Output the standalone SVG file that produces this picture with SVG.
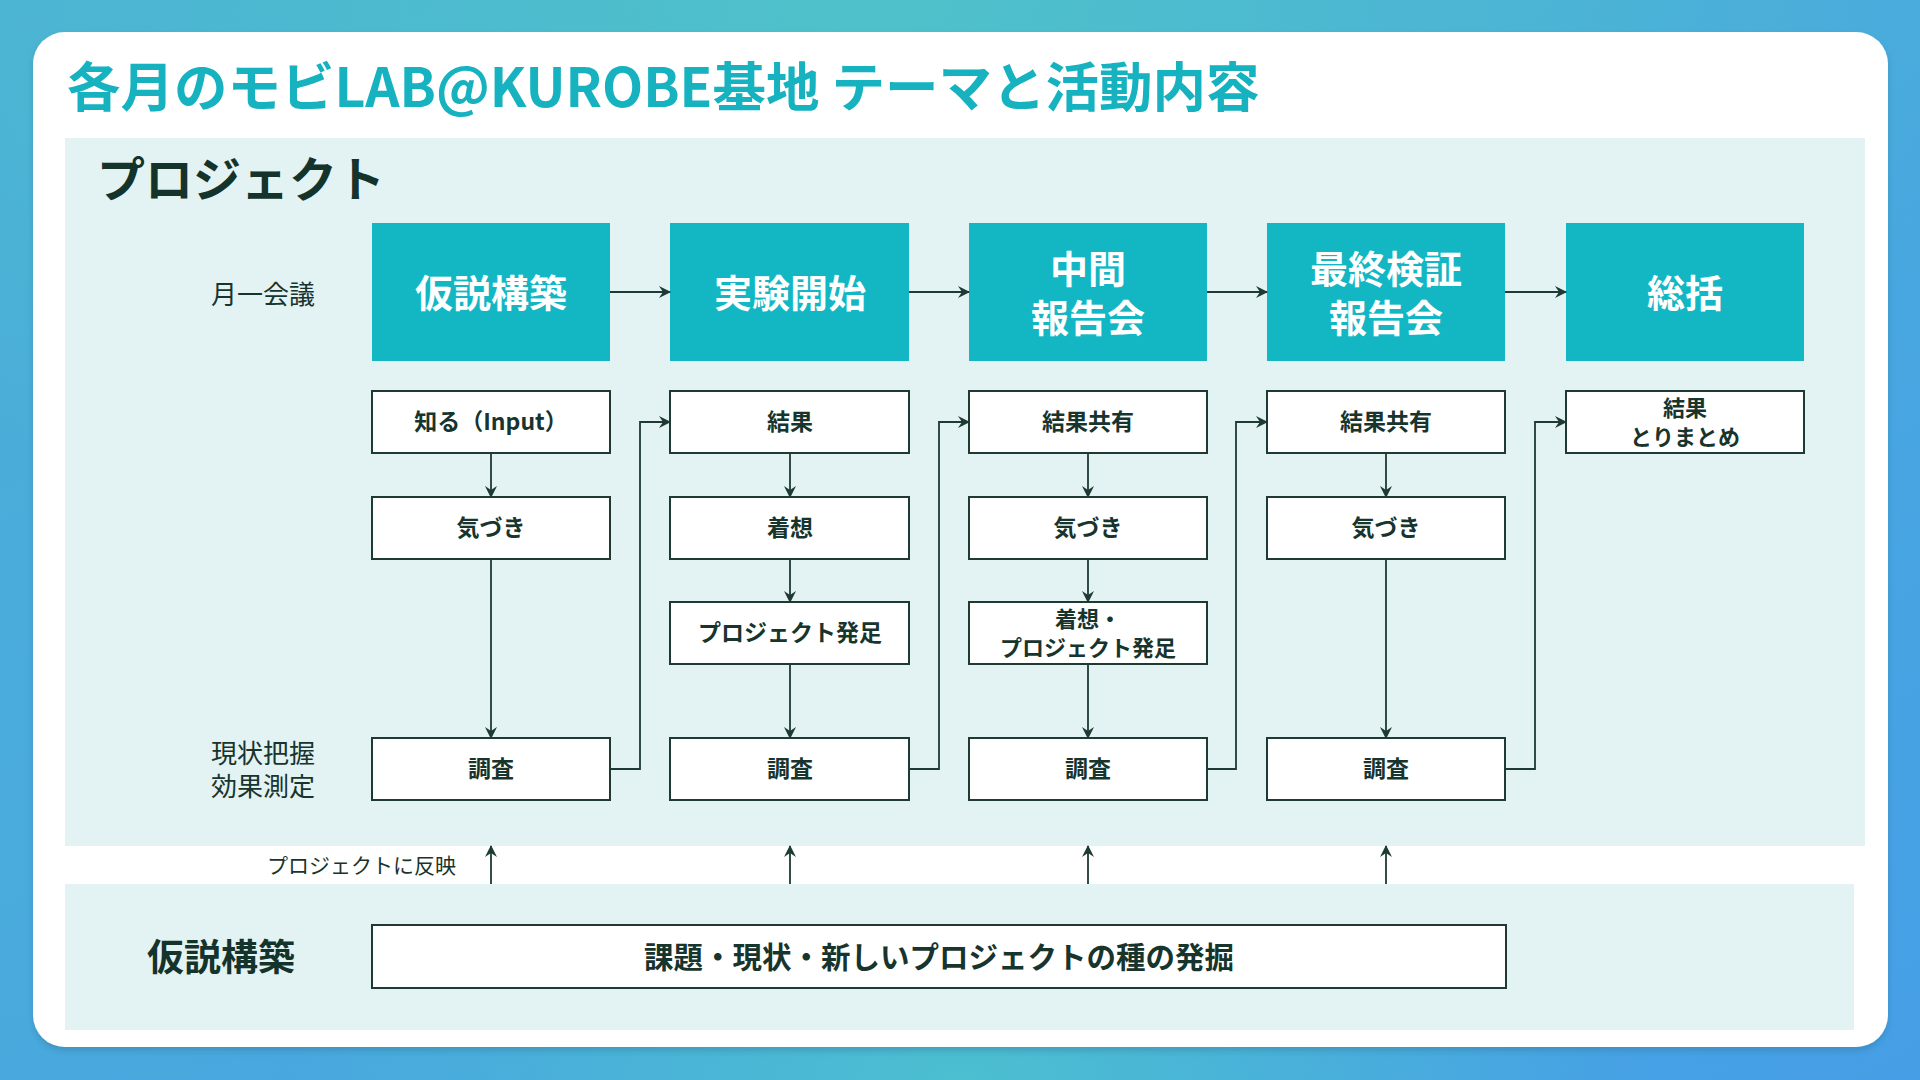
<svg xmlns="http://www.w3.org/2000/svg" width="1920" height="1080" viewBox="0 0 1920 1080">
<defs>
  <linearGradient id="bg" x1="0" y1="0" x2="1" y2="1">
    <stop offset="0" stop-color="#4BB0D6"/>
    <stop offset="0.5" stop-color="#49A9DE"/>
    <stop offset="1" stop-color="#469FE6"/>
  </linearGradient>
  <radialGradient id="glowTop" cx="0.45" cy="0" r="0.6">
    <stop offset="0" stop-color="#4FC4C8" stop-opacity="0.9"/>
    <stop offset="1" stop-color="#4FC4C8" stop-opacity="0"/>
  </radialGradient>
  <radialGradient id="glowBot" cx="0.5" cy="1" r="0.35">
    <stop offset="0" stop-color="#4CC2CE" stop-opacity="0.9"/>
    <stop offset="1" stop-color="#4CC2CE" stop-opacity="0"/>
  </radialGradient>
  <filter id="shadow" x="-5%" y="-5%" width="110%" height="110%">
    <feDropShadow dx="0" dy="4" stdDeviation="3" flood-color="#2a6f8a" flood-opacity="0.35"/>
  </filter>
  <marker id="arr" viewBox="0 0 12 12" refX="11" refY="6" markerWidth="12" markerHeight="12" markerUnits="userSpaceOnUse" orient="auto">
    <path d="M0,0 L12,6 L0,12 L4,6 Z" fill="#1D3A33"/>
  </marker>
  <style>
    .teal{fill:#13B7C4}
    .wbox{fill:#FFFFFF;stroke:#1F3A33;stroke-width:2}
    .tt{font-family:"Noto Sans CJK JP","Noto Sans",sans-serif;font-weight:700;font-size:38px;fill:#FFFFFF;text-anchor:middle;dominant-baseline:central}
    .bt{font-family:"Noto Sans CJK JP","Noto Sans",sans-serif;font-weight:700;font-size:23px;fill:#17342D;text-anchor:middle;dominant-baseline:central}
    .bt2{font-family:"Noto Sans CJK JP","Noto Sans",sans-serif;font-weight:700;font-size:22px;fill:#17342D;text-anchor:middle;dominant-baseline:central}
    .lbl{font-family:"Noto Sans CJK JP","Noto Sans",sans-serif;font-weight:400;font-size:26px;fill:#17342D;dominant-baseline:central}
    .ln{fill:none;stroke:#1D3A33;stroke-width:1.8}
  </style>
</defs>

<rect x="0" y="0" width="1920" height="1080" fill="url(#bg)"/>
<rect x="0" y="0" width="1920" height="1080" fill="url(#glowTop)"/>
<rect x="0" y="0" width="1920" height="1080" fill="url(#glowBot)"/>

<rect x="33" y="32" width="1855" height="1015" rx="32" fill="#FFFFFF" filter="url(#shadow)"/>

<text x="67" y="83" font-family="'Noto Sans CJK JP','Noto Sans',sans-serif" font-weight="700" font-size="53.5" fill="#16B2C0" dominant-baseline="central">各月のモビLAB@KUROBE基地 テーマと活動内容</text>

<rect x="65" y="138" width="1800" height="708" fill="#E3F2F3"/>
<rect x="65" y="884" width="1789" height="146" fill="#E3F2F3"/>

<text x="97" y="176" font-family="'Noto Sans CJK JP','Noto Sans',sans-serif" font-weight="700" font-size="48" fill="#14332B" dominant-baseline="central">プロジェクト</text>

<text class="lbl" x="211" y="292">月一会議</text>
<text class="lbl"><tspan x="211" y="751">現状把握</tspan><tspan x="211" y="784">効果測定</tspan></text>

<g id="stage-1"><rect class="teal" x="372" y="223" width="238" height="138"/><text class="tt" x="491" y="290">仮説構築</text></g>
<g id="stage-2"><rect class="teal" x="670" y="223" width="239" height="138"/><text class="tt" x="790" y="290">実験開始</text></g>
<g id="stage-3"><rect class="teal" x="969" y="223" width="238" height="138"/><text class="tt"><tspan x="1088" y="266">中間</tspan><tspan x="1088" y="315">報告会</tspan></text></g>
<g id="stage-4"><rect class="teal" x="1267" y="223" width="238" height="138"/><text class="tt"><tspan x="1386" y="266">最終検証</tspan><tspan x="1386" y="315">報告会</tspan></text></g>
<g id="stage-5"><rect class="teal" x="1566" y="223" width="238" height="138"/><text class="tt" x="1685" y="290">総括</text></g>

<g id="c1-shiru"><rect class="wbox" x="372" y="391" width="238" height="62"/><text class="bt" x="491" y="420">知る（Input）</text></g>
<g id="c1-kizuki"><rect class="wbox" x="372" y="497" width="238" height="62"/><text class="bt" x="491" y="526">気づき</text></g>
<g id="c1-chosa"><rect class="wbox" x="372" y="738" width="238" height="62"/><text class="bt" x="491" y="767">調査</text></g>

<g id="c2-kekka"><rect class="wbox" x="670" y="391" width="239" height="62"/><text class="bt" x="790" y="420">結果</text></g>
<g id="c2-chakuso"><rect class="wbox" x="670" y="497" width="239" height="62"/><text class="bt" x="790" y="526">着想</text></g>
<g id="c2-hossoku"><rect class="wbox" x="670" y="602" width="239" height="62"/><text class="bt" x="790" y="631">プロジェクト発足</text></g>
<g id="c2-chosa"><rect class="wbox" x="670" y="738" width="239" height="62"/><text class="bt" x="790" y="767">調査</text></g>

<g id="c3-kyoyu"><rect class="wbox" x="969" y="391" width="238" height="62"/><text class="bt" x="1088" y="420">結果共有</text></g>
<g id="c3-kizuki"><rect class="wbox" x="969" y="497" width="238" height="62"/><text class="bt" x="1088" y="526">気づき</text></g>
<g id="c3-hossoku"><rect class="wbox" x="969" y="602" width="238" height="62"/><text class="bt2"><tspan x="1088" y="617">着想・</tspan><tspan x="1088" y="646">プロジェクト発足</tspan></text></g>
<g id="c3-chosa"><rect class="wbox" x="969" y="738" width="238" height="62"/><text class="bt" x="1088" y="767">調査</text></g>

<g id="c4-kyoyu"><rect class="wbox" x="1267" y="391" width="238" height="62"/><text class="bt" x="1386" y="420">結果共有</text></g>
<g id="c4-kizuki"><rect class="wbox" x="1267" y="497" width="238" height="62"/><text class="bt" x="1386" y="526">気づき</text></g>
<g id="c4-chosa"><rect class="wbox" x="1267" y="738" width="238" height="62"/><text class="bt" x="1386" y="767">調査</text></g>

<g id="c5-matome"><rect class="wbox" x="1566" y="391" width="238" height="62"/><text class="bt2"><tspan x="1685" y="406">結果</tspan><tspan x="1685" y="435">とりまとめ</tspan></text></g>

<g id="hypothesis"><rect class="wbox" x="372" y="925" width="1134" height="63"/><text class="bt" x="939" y="955" style="font-size:29.5px">課題・現状・新しいプロジェクトの種の発掘</text></g>
<text x="147" y="955" font-family="'Noto Sans CJK JP','Noto Sans',sans-serif" font-weight="700" font-size="37" fill="#14332B" dominant-baseline="central">仮説構築</text>
<text x="267" y="864" font-family="'Noto Sans CJK JP','Noto Sans',sans-serif" font-weight="400" font-size="21" fill="#17342D" dominant-baseline="central">プロジェクトに反映</text>

<g id="connectors">
  <line class="ln" x1="610" y1="292" x2="670" y2="292" marker-end="url(#arr)"/>
  <line class="ln" x1="909" y1="292" x2="969" y2="292" marker-end="url(#arr)"/>
  <line class="ln" x1="1207" y1="292" x2="1267" y2="292" marker-end="url(#arr)"/>
  <line class="ln" x1="1505" y1="292" x2="1566" y2="292" marker-end="url(#arr)"/>

  <line class="ln" x1="491" y1="453" x2="491" y2="497" marker-end="url(#arr)"/>
  <line class="ln" x1="491" y1="559" x2="491" y2="738" marker-end="url(#arr)"/>
  <line class="ln" x1="790" y1="453" x2="790" y2="497" marker-end="url(#arr)"/>
  <line class="ln" x1="790" y1="559" x2="790" y2="602" marker-end="url(#arr)"/>
  <line class="ln" x1="790" y1="664" x2="790" y2="738" marker-end="url(#arr)"/>
  <line class="ln" x1="1088" y1="453" x2="1088" y2="497" marker-end="url(#arr)"/>
  <line class="ln" x1="1088" y1="559" x2="1088" y2="602" marker-end="url(#arr)"/>
  <line class="ln" x1="1088" y1="664" x2="1088" y2="738" marker-end="url(#arr)"/>
  <line class="ln" x1="1386" y1="453" x2="1386" y2="497" marker-end="url(#arr)"/>
  <line class="ln" x1="1386" y1="559" x2="1386" y2="738" marker-end="url(#arr)"/>

  <polyline class="ln" points="610,769 640,769 640,422 670,422" marker-end="url(#arr)"/>
  <polyline class="ln" points="909,769 939,769 939,422 969,422" marker-end="url(#arr)"/>
  <polyline class="ln" points="1207,769 1236,769 1236,422 1267,422" marker-end="url(#arr)"/>
  <polyline class="ln" points="1505,769 1535,769 1535,422 1566,422" marker-end="url(#arr)"/>

  <line class="ln" x1="491" y1="884" x2="491" y2="846" marker-end="url(#arr)"/>
  <line class="ln" x1="790" y1="884" x2="790" y2="846" marker-end="url(#arr)"/>
  <line class="ln" x1="1088" y1="884" x2="1088" y2="846" marker-end="url(#arr)"/>
  <line class="ln" x1="1386" y1="884" x2="1386" y2="846" marker-end="url(#arr)"/>
</g>
</svg>
